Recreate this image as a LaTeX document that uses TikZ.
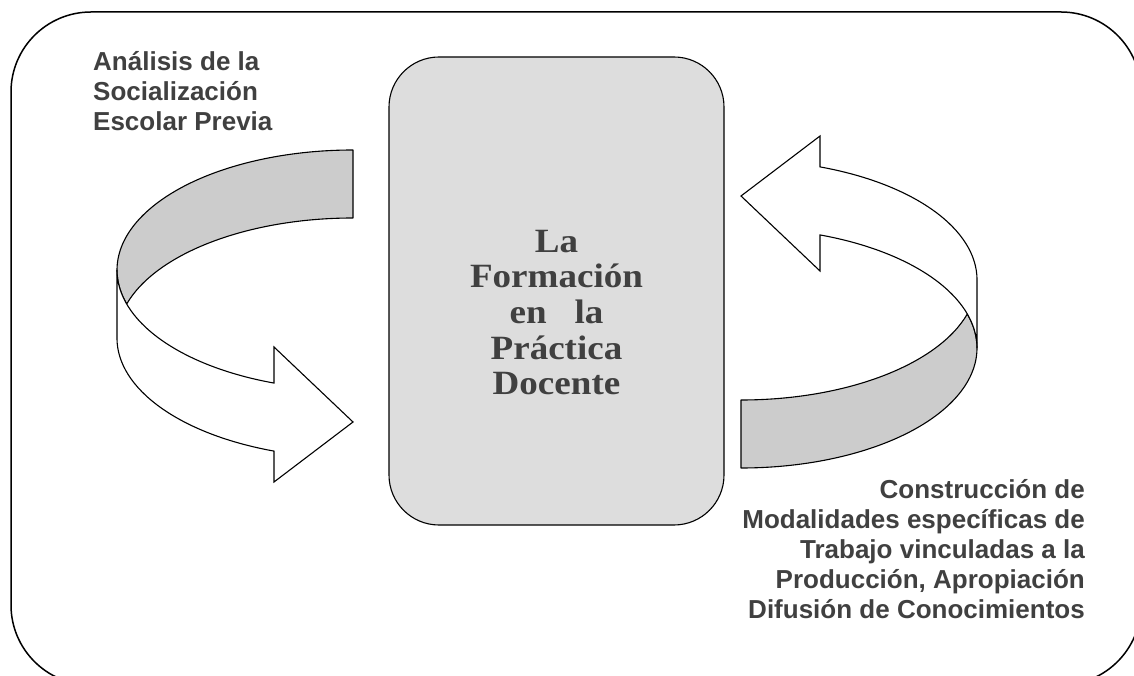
\documentclass[tikz,border=0pt]{standalone}
\usepackage{fontspec}
\setmainfont{Liberation Serif}
\setsansfont{Liberation Sans}
\newfontfamily\titlefont{Liberation Serif}[FakeStretch=1.09]
\usepackage{tikz}
\usetikzlibrary{positioning,calc}
\definecolor{textgray}{HTML}{404040}
\definecolor{boxgray}{HTML}{DDDDDD}
\definecolor{bandgray}{HTML}{CCCCCC}
\tikzset{>=latex,
  backband/.style={draw, fill=bandgray, line width=1.1pt, line join=round},
  frontband/.style={draw, fill=white, line width=1.1pt, line join=miter},
  sidetext/.style={inner sep=0pt, text=textgray, font=\sffamily\bfseries\fontsize{26}{30}\selectfont}}
\begin{document}
\begin{tikzpicture}[x=1pt,y=1pt]
    \useasboundingbox (0,0) rectangle (1134,675);
    \clip (0,0) rectangle (1134,675);
    \draw[line width=1.5pt, rounded corners=80] (11,-10) rectangle (1141,663);
    \node[draw, line width=1.1pt, fill=boxgray, rounded corners=50, minimum width=335pt, minimum height=468pt] (box) at (556.5,384) {};
    \node[inner sep=0pt, align=center, text=textgray, font=\titlefont\bfseries\fontsize{34}{35.7}\selectfont] (title) at ([yshift=-21.5]box.center) {La\\Formación\\en~~~la\\Práctica\\Docente};
    \foreach \r in {0,180} {
      \begin{scope}[rotate around={\r:(547,366)}]
        \path[backband] (353,525) arc[start angle=90, end angle=196.46, x radius=236, y radius=120]
          arc[start angle=163.54, end angle=90, x radius=236, y radius=120] -- cycle;
        \path[frontband] (117,405) arc[start angle=180, end angle=250.45, x radius=236, y radius=120]
          -- (274,328) -- (353,253) -- (274,193) -- (274,223.9)
          arc[start angle=250.45, end angle=180, x radius=236, y radius=120] -- cycle;
      \end{scope}
    }
    \node[sidetext, anchor=base west, align=left] (analisis) at (93,544) {Análisis de la\\Socialización\\Escolar Previa};
    \node[sidetext, anchor=base east, align=right] (construccion) at (1085,57) {Construcción de\\Modalidades específicas de\\Trabajo vinculadas a la\\Producción, Apropiación\\Difusión de Conocimientos};
\end{tikzpicture}
\end{document}
